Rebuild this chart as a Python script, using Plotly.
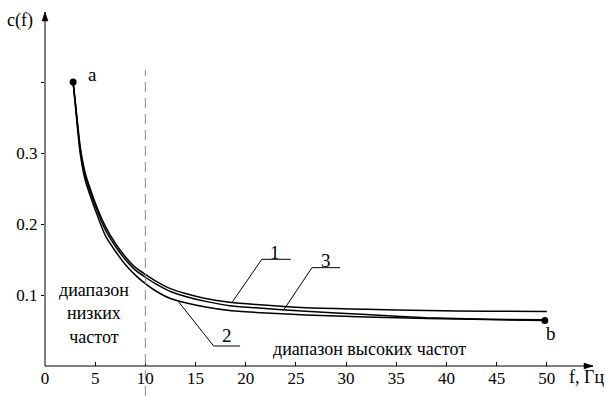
import plotly.graph_objects as go

# ---- data ----
f_main = [2.8, 3.0, 3.5, 4.0, 4.5, 5.0, 6.0, 7.0, 8.0, 9.0, 10, 11, 12.5, 14, 16, 18.4, 21, 26, 32, 38, 44, 49.8]
f_curve1 = [2.8, 3.0, 3.5, 4.0, 4.5, 5.0, 6.0, 7.0, 8.0, 9.0, 10, 11, 12.5, 14, 16, 18.4, 21, 26, 32, 38, 44, 50]
c_curve1 = [0.400, 0.375, 0.310, 0.272, 0.250, 0.230, 0.197, 0.173, 0.154, 0.139, 0.129, 0.120, 0.109, 0.102,
            0.095, 0.0897, 0.0865, 0.082, 0.080, 0.078, 0.0772, 0.0768]
c_curve2 = [0.400, 0.370, 0.300, 0.262, 0.240, 0.220, 0.184, 0.162, 0.143, 0.128, 0.116, 0.106, 0.095, 0.089,
            0.083, 0.078, 0.0755, 0.072, 0.069, 0.067, 0.0655, 0.064]
c_curve3 = [0.400, 0.373, 0.306, 0.268, 0.246, 0.226, 0.192, 0.169, 0.150, 0.135, 0.125, 0.116, 0.105, 0.098,
            0.091, 0.085, 0.082, 0.077, 0.0725, 0.068, 0.066, 0.065]

point_names = ["a", "b"]
point_f = [2.8, 49.8]
point_c = [0.400, 0.064]

x_ticks = [0, 5, 10, 15, 20, 25, 30, 35, 40, 45, 50]
x_tick_text = ["0", "5", "10", "15", "20", "25", "30", "35", "40", "45", "50"]
y_ticks = [0.1, 0.2, 0.3, 0.4]
y_tick_text = ["0.1", "0.2", "0.3", ""]
boundary_f = 10

# leader lines: curve point, elbow, end of shelf (in f, c)
leaders = {
    "1": [(18.64, 0.0896), (21.6, 0.1503), (24.5, 0.1503)],
    "3": [(23.8, 0.0794), (26.6, 0.1385), (29.4, 0.1385)],
    "2": [(13.3, 0.0906), (16.8, 0.0282), (19.44, 0.0282)],
}
leader_labels = {"1": (22.9, 0.160), "3": (28.0, 0.149), "2": (18.1, 0.0423)}

FONT = "Liberation Serif, Times New Roman, serif"
W, H = 606, 396
ML, MR, MT, MB = 45, 13, 12, 30
PW, PH = W - ML - MR, H - MT - MB

fig = go.Figure()
line_style = dict(color="black", width=1.5, shape="spline", smoothing=0.6)
fig.add_trace(go.Scatter(x=f_curve1, y=c_curve1, mode="lines", line=line_style, name="1"))
fig.add_trace(go.Scatter(x=f_main, y=c_curve3, mode="lines", line=line_style, name="3"))
fig.add_trace(go.Scatter(x=f_main, y=c_curve2, mode="lines", line=line_style, name="2"))
fig.add_trace(go.Scatter(x=point_f, y=point_c, mode="markers",
                         marker=dict(color="black", size=7), cliponaxis=False))

# dashed boundary between ranges
fig.add_shape(type="line", xref="x", yref="paper", x0=boundary_f, x1=boundary_f,
              y0=-MB / PH, y1=0.836, line=dict(color="#8a8a8a", width=1, dash="10px,6px"))

# axis lines and arrowheads (paper coordinates)
fig.add_shape(type="line", xref="paper", yref="paper", x0=0, y0=0, x1=1, y1=0,
              line=dict(color="black", width=1))
fig.add_shape(type="line", xref="paper", yref="paper", x0=0, y0=0, x1=0, y1=1,
              line=dict(color="black", width=1))
al, aw = 9.0, 3.0
fig.add_shape(type="path", xref="paper", yref="paper",
              path=f"M 1 0 L {1 - al / PW} {aw / PH} L {1 - al / PW} {-aw / PH} Z",
              fillcolor="black", line=dict(color="black", width=0.5))
fig.add_shape(type="path", xref="paper", yref="paper",
              path=f"M 0 1 L {aw / PW} {1 - al / PH} L {-aw / PW} {1 - al / PH} Z",
              fillcolor="black", line=dict(color="black", width=0.5))

# leader lines
for key, pts in leaders.items():
    for (xa, ya), (xb, yb) in zip(pts[:-1], pts[1:]):
        fig.add_shape(type="line", xref="x", yref="y", x0=xa, y0=ya, x1=xb, y1=yb,
                      line=dict(color="black", width=1))
    lx, ly = leader_labels[key]
    fig.add_annotation(x=lx, y=ly, xref="x", yref="y", text=key, showarrow=False,
                       xanchor="center", yanchor="middle",
                       font=dict(family=FONT, size=19, color="black"))

# point labels
fig.add_annotation(x=point_f[0], y=point_c[0], text=point_names[0], showarrow=False,
                   xanchor="center", yanchor="middle", xshift=19, yshift=8,
                   font=dict(family=FONT, size=19, color="black"))
fig.add_annotation(x=point_f[1], y=point_c[1], text=point_names[1], showarrow=False,
                   xanchor="center", yanchor="middle", xshift=6, yshift=-13,
                   font=dict(family=FONT, size=19, color="black"))

# range texts
fig.add_annotation(x=4.9, y=0.0745, xref="x", yref="y", text="диапазон<br>низких<br>частот",
                   showarrow=False, align="center", xanchor="center", yanchor="middle",
                   font=dict(family=FONT, size=18, color="black"))
fig.add_annotation(x=32.3, y=0.0245, xref="x", yref="y", text="диапазон высоких частот",
                   showarrow=False, xanchor="center", yanchor="middle",
                   font=dict(family=FONT, size=18, color="black"))

# axis titles
fig.add_annotation(x=0, y=1, xref="paper", yref="paper", text="c(f)", showarrow=False,
                   xanchor="center", yanchor="middle", xshift=-25, yshift=-8,
                   font=dict(family=FONT, size=18, color="black"))
fig.add_annotation(x=1, y=0, xref="paper", yref="paper", text="f, Гц", showarrow=False,
                   xanchor="left", yanchor="middle", xshift=-26, yshift=-11,
                   font=dict(family=FONT, size=18, color="black"))

fig.update_layout(
    template="none",
    width=W, height=H,
    margin=dict(l=ML, r=MR, t=MT, b=MB),
    plot_bgcolor="white", paper_bgcolor="white",
    showlegend=False,
    font=dict(family=FONT, size=17, color="black"),
)
fig.update_xaxes(range=[0, 54.6], showgrid=False, zeroline=False, showline=False,
                 tickvals=x_ticks, ticktext=x_tick_text, ticks="inside",
                 ticklen=4, tickcolor="black", tickfont=dict(family=FONT, size=17, color="black"))
fig.update_yaxes(range=[0, 0.4986], showgrid=False, zeroline=False, showline=False,
                 tickvals=y_ticks, ticktext=y_tick_text,
                 ticks="outside", ticklen=3, tickcolor="black",
                 tickfont=dict(family=FONT, size=17, color="black"))

redraw_js = """
var gd = document.getElementById('{plot_id}');
function rd() { try { Plotly.newPlot(gd, gd.data, gd.layout); } catch (e) {} }
setTimeout(rd, 30);
setTimeout(rd, 250);
if (document.fonts && document.fonts.ready) { document.fonts.ready.then(function () { setTimeout(rd, 0); }); }
"""

fig.write_html("out.html", post_script=redraw_js)
